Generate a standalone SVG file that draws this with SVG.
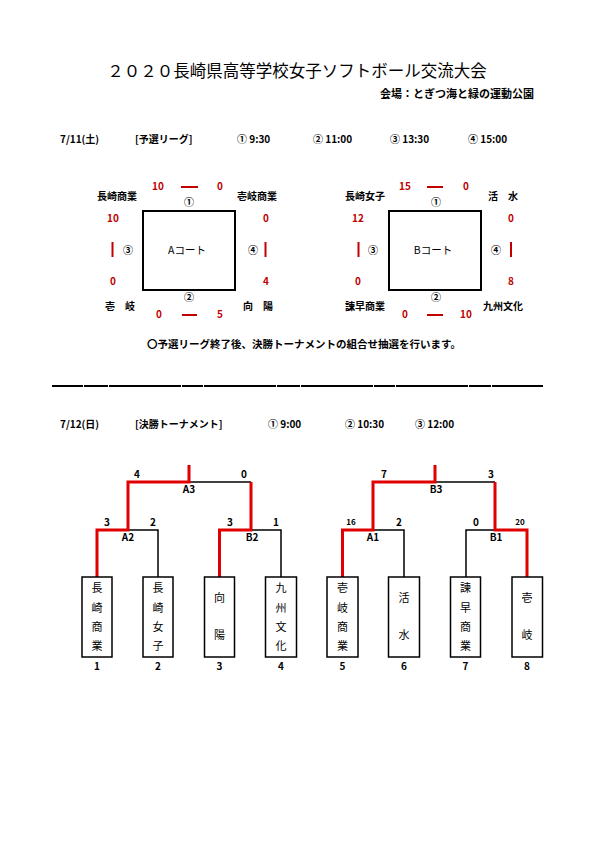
<svg xmlns="http://www.w3.org/2000/svg" width="595" height="842" viewBox="0 0 595 842">
<style>
text{font-family:"Noto Sans CJK JP","Liberation Sans",sans-serif;fill:#000}
.t{font-size:16.5px}
.s{font-size:10px;font-weight:bold}
.n{font-size:10px;font-weight:bold;text-anchor:middle}
.r{fill:#c00000}
.c{font-size:10.5px;text-anchor:middle}
.v{font-size:11px;text-anchor:middle}
.blk{stroke:#000;stroke-width:1.5;fill:none}
.red{stroke:#e00000;stroke-width:3;fill:none}
.rl{stroke:#c00000;stroke-width:2;fill:none}
.court{stroke:#000;stroke-width:2;fill:#fff}
.box{stroke:#000;stroke-width:1.5;fill:#fff}
</style>
<rect width="595" height="842" fill="#fff"/>
<g id="header">
<text class="t" x="297" y="77" text-anchor="middle">２０２０長崎県高等学校女子ソフトボール交流大会</text>
<text class="s" x="380" y="98" style="font-size:11px">会場：とぎつ海と緑の運動公園</text>
</g>
<g id="league-row">
<text class="s" x="60" y="143">7/11(土)</text>
<text class="s" x="135" y="143">[予選リーグ]</text>
<text class="s" x="237" y="143">① 9:30</text>
<text class="s" x="313" y="143">② 11:00</text>
<text class="s" x="390" y="143">③ 13:30</text>
<text class="s" x="468" y="143">④ 15:00</text>
</g>
<g id="courtA">
<rect class="court" x="143" y="211" width="92" height="79"/>
<text class="c" x="187" y="254">Aコート</text>
<text class="s" x="97" y="200">長崎商業</text>
<text class="s" x="237" y="200">壱岐商業</text>
<text class="s" x="105" y="310">壱　岐</text>
<text class="s" x="243" y="310">向　陽</text>
<text class="n r" x="158" y="190">10</text>
<text class="n r" x="220" y="190">0</text>
<line class="rl" x1="181" y1="187" x2="198" y2="187"/>
<text class="n" x="189" y="206">①</text>
<text class="n r" x="113" y="222">10</text>
<line class="rl" x1="112.5" y1="242" x2="112.5" y2="257"/>
<text class="n r" x="113" y="285">0</text>
<text class="n" x="128" y="254">③</text>
<text class="n" x="253" y="254">④</text>
<line class="rl" x1="265.5" y1="242" x2="265.5" y2="257"/>
<text class="n r" x="266" y="222">0</text>
<text class="n r" x="266" y="285">4</text>
<text class="n" x="189" y="301">②</text>
<text class="n r" x="159" y="318">0</text>
<line class="rl" x1="182" y1="315" x2="197" y2="315"/>
<text class="n r" x="220" y="318">5</text>
</g>
<g id="courtB">
<rect class="court" x="389" y="211" width="92" height="79"/>
<text class="c" x="433" y="254">Bコート</text>
<text class="s" x="345" y="200">長崎女子</text>
<text class="s" x="488" y="200">活　水</text>
<text class="s" x="345" y="310">諫早商業</text>
<text class="s" x="483" y="310">九州文化</text>
<text class="n r" x="405" y="190">15</text>
<text class="n r" x="466" y="190">0</text>
<line class="rl" x1="427" y1="187" x2="443" y2="187"/>
<text class="n" x="436" y="206">①</text>
<text class="n r" x="358" y="222">12</text>
<line class="rl" x1="358.5" y1="242" x2="358.5" y2="257"/>
<text class="n r" x="358" y="285">0</text>
<text class="n" x="373" y="254">③</text>
<text class="n" x="496" y="254">④</text>
<line class="rl" x1="511" y1="242" x2="511" y2="257"/>
<text class="n r" x="511" y="222">0</text>
<text class="n r" x="511" y="285">8</text>
<text class="n" x="436" y="301">②</text>
<text class="n r" x="405" y="318">0</text>
<line class="rl" x1="427" y1="315" x2="443" y2="315"/>
<text class="n r" x="466" y="318">10</text>
</g>
<g id="notice">
<text class="s" x="147" y="348" style="font-size:10.5px">〇予選リーグ終了後、決勝トーナメントの組合せ抽選を行います。</text>
</g>
<g id="divider" stroke="#000" stroke-width="2">
<line x1="52" y1="386" x2="83" y2="386"/>
<line x1="84" y1="386" x2="108" y2="386"/>
<line x1="109" y1="386" x2="181" y2="386"/>
<line x1="182" y1="386" x2="203" y2="386"/>
<line x1="204" y1="386" x2="276" y2="386"/>
<line x1="277" y1="386" x2="300" y2="386"/>
<line x1="301" y1="386" x2="373" y2="386"/>
<line x1="374" y1="386" x2="395" y2="386"/>
<line x1="396" y1="386" x2="468" y2="386"/>
<line x1="469" y1="386" x2="491" y2="386"/>
<line x1="492" y1="386" x2="543" y2="386"/>
</g>
<g id="tournament-row">
<text class="s" x="60" y="428">7/12(日)</text>
<text class="s" x="135" y="428">[決勝トーナメント]</text>
<text class="s" x="268" y="428">① 9:00</text>
<text class="s" x="345" y="428">② 10:30</text>
<text class="s" x="415" y="428">③ 12:00</text>
</g>
<g id="connectors">
<polyline class="blk" points="189,482 251,482"/>
<polyline class="blk" points="128,530 158,530 158,577"/>
<polyline class="blk" points="251,530 281,530 281,577"/>
<polyline class="blk" points="435,482 495,482"/>
<polyline class="blk" points="373,530 404,530 404,577"/>
<polyline class="blk" points="495,530 466,530 466,577"/>
<polyline class="red" points="189,465 189,482 128,482 128,530 97,530 97,577"/>
<polyline class="red" points="251,482 251,530 219.5,530 219.5,577"/>
<polyline class="red" points="435,465 435,482 373,482 373,530 342.5,530 342.5,577"/>
<polyline class="red" points="495,482 495,530 527,530 527,577"/>
</g>
<g id="scores">
<text class="n" x="137" y="478">4</text>
<text class="n" x="244" y="478">0</text>
<text class="n" x="189" y="493">A3</text>
<text class="n" x="107" y="526">3</text>
<text class="n" x="153" y="526">2</text>
<text class="n" x="128" y="541">A2</text>
<text class="n" x="230" y="526">3</text>
<text class="n" x="276" y="526">1</text>
<text class="n" x="252" y="541">B2</text>
<text class="n" x="384" y="478">7</text>
<text class="n" x="491" y="478">3</text>
<text class="n" x="436" y="493">B3</text>
<text class="n" x="351" y="525" style="font-size:8px">16</text>
<text class="n" x="399" y="526">2</text>
<text class="n" x="373" y="541">A1</text>
<text class="n" x="476" y="526">0</text>
<text class="n" x="520" y="525" style="font-size:8px">20</text>
<text class="n" x="496" y="541">B1</text>
</g>
<g id="team1"><rect class="box" x="82" y="577" width="30" height="80"/>
<text class="v" x="97" y="592">長</text><text class="v" x="97" y="612">崎</text><text class="v" x="97" y="631">商</text><text class="v" x="97" y="650">業</text>
<text class="n" x="97" y="670">1</text></g>
<g id="team2"><rect class="box" x="143" y="577" width="30" height="80"/>
<text class="v" x="158" y="592">長</text><text class="v" x="158" y="612">崎</text><text class="v" x="158" y="631">女</text><text class="v" x="158" y="650">子</text>
<text class="n" x="158" y="670">2</text></g>
<g id="team3"><rect class="box" x="204.5" y="577" width="30" height="80"/>
<text class="v" x="219.5" y="602">向</text><text class="v" x="219.5" y="639">陽</text>
<text class="n" x="219.5" y="670">3</text></g>
<g id="team4"><rect class="box" x="265.5" y="577" width="31" height="80"/>
<text class="v" x="281" y="592">九</text><text class="v" x="281" y="612">州</text><text class="v" x="281" y="631">文</text><text class="v" x="281" y="650">化</text>
<text class="n" x="281" y="670">4</text></g>
<g id="team5"><rect class="box" x="327" y="577" width="31" height="80"/>
<text class="v" x="342.5" y="592">壱</text><text class="v" x="342.5" y="612">岐</text><text class="v" x="342.5" y="631">商</text><text class="v" x="342.5" y="650">業</text>
<text class="n" x="342.5" y="670">5</text></g>
<g id="team6"><rect class="box" x="388.5" y="577" width="31" height="80"/>
<text class="v" x="404" y="602">活</text><text class="v" x="404" y="639">水</text>
<text class="n" x="404" y="670">6</text></g>
<g id="team7"><rect class="box" x="450.5" y="577" width="30" height="80"/>
<text class="v" x="465.5" y="592">諫</text><text class="v" x="465.5" y="612">早</text><text class="v" x="465.5" y="631">商</text><text class="v" x="465.5" y="650">業</text>
<text class="n" x="465.5" y="670">7</text></g>
<g id="team8"><rect class="box" x="512" y="577" width="30.5" height="80"/>
<text class="v" x="527" y="602">壱</text><text class="v" x="527" y="639">岐</text>
<text class="n" x="527" y="670">8</text></g>
</svg>
